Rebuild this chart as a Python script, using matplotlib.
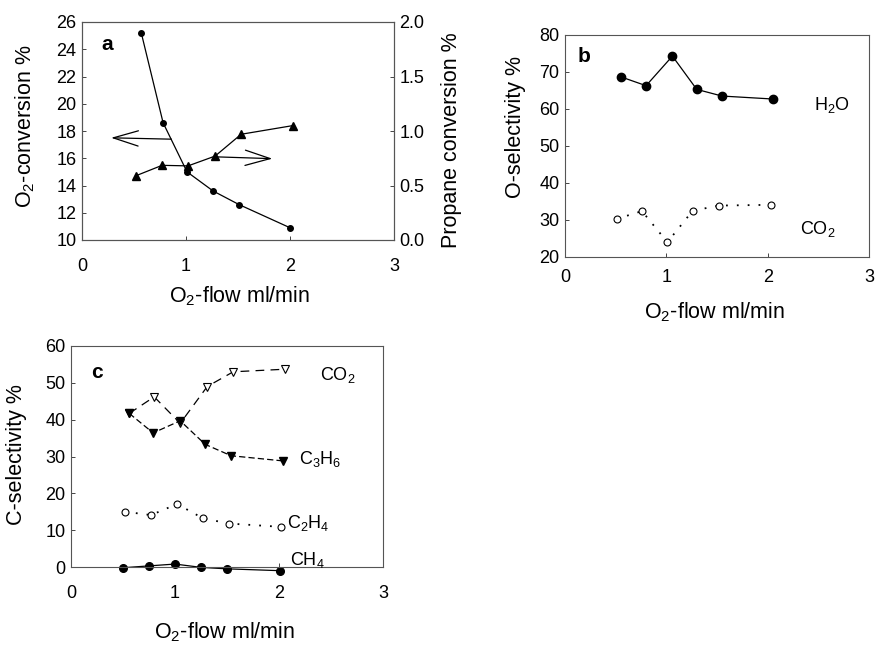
import matplotlib
matplotlib.use("Agg")
import matplotlib.pyplot as plt

plt.rcParams["font.family"] = ["Liberation Sans", "DejaVu Sans"]
plt.rcParams["mathtext.fontset"] = "custom"
plt.rcParams["mathtext.rm"] = "Liberation Sans"
plt.rcParams["mathtext.it"] = "Liberation Sans:italic"
plt.rcParams["mathtext.bf"] = "Liberation Sans:bold"

# ---- panel a: conversion vs O2 flow ----
flow_a_o2 = [0.57, 0.78, 1.01, 1.26, 1.51, 2.00]
o2_conversion = [25.2, 18.6, 15.0, 13.6, 12.6, 10.9]
flow_a_prop = [0.52, 0.77, 1.02, 1.28, 1.53, 2.03]
propane_conversion = [0.59, 0.685, 0.68, 0.77, 0.97, 1.05]

# ---- panel b: O-selectivity ----
flow_b_h2o = [0.55, 0.80, 1.06, 1.30, 1.55, 2.05]
o_sel_h2o = [68.7, 66.3, 74.3, 65.3, 63.5, 62.7]
flow_b_co2 = [0.51, 0.76, 1.01, 1.26, 1.52, 2.03]
o_sel_co2 = [30.3, 32.4, 24.0, 32.5, 33.9, 34.1]

# ---- panel c: C-selectivity ----
flow_c_co2 = [0.56, 0.80, 1.05, 1.31, 1.56, 2.06]
c_sel_co2 = [41.7, 46.2, 39.0, 49.0, 53.0, 53.7]
flow_c_c3h6 = [0.56, 0.79, 1.05, 1.29, 1.54, 2.04]
c_sel_c3h6 = [41.7, 36.4, 39.7, 33.3, 30.2, 28.8]
flow_c_c2h4 = [0.52, 0.77, 1.02, 1.27, 1.52, 2.02]
c_sel_c2h4 = [15.0, 14.1, 17.1, 13.2, 11.8, 10.9]
flow_c_ch4 = [0.50, 0.75, 1.00, 1.25, 1.50, 2.01]
c_sel_ch4 = [-0.2, 0.3, 0.8, -0.1, -0.5, -1.0]

x_ticks = [0, 1, 2, 3]
W, H = 877, 645
fig = plt.figure(figsize=(W / 100, H / 100), dpi=100)

TICK = 13
LAB = 15.5
SPEC = 13


def add_axes_px(left, top, right, bottom):
    return fig.add_axes([left / W, 1 - bottom / H, (right - left) / W, (bottom - top) / H])


def fig_text(x, y, s, **kw):
    fig.text(x / W, 1 - y / H, s, ha="center", va="center", **kw)


def style_axes(ax, xpad=12):
    for sp in ax.spines.values():
        sp.set_color("#555555")
        sp.set_linewidth(0.8)
    ax.tick_params(direction="in", length=3, width=0.7, color="#444444",
                   labelsize=TICK, pad=4)
    ax.tick_params(axis="x", pad=xpad)
    ax.set_xlim(0, 3)
    ax.set_xticks(x_ticks)


# Panel a
axA = add_axes_px(82, 22, 394, 240)
style_axes(axA, xpad=13)
axA.set_ylim(10, 26)
axA.set_yticks(range(10, 27, 2))
axA.plot(flow_a_o2, o2_conversion, "-", color="black", lw=0.9,
         marker="o", ms=4, mfc="black", mec="black")
axA.annotate("", xy=(0.28, 17.5), xytext=(0.86, 17.4),
             arrowprops=dict(arrowstyle="->,head_length=1.8,head_width=0.55",
                             lw=0.9, color="black", shrinkA=0, shrinkB=0))
axA.annotate("", xy=(1.83, 15.97), xytext=(1.30, 16.1),
             arrowprops=dict(arrowstyle="->,head_length=1.8,head_width=0.55",
                             lw=0.9, color="black", shrinkA=0, shrinkB=0))
axA2 = axA.twinx()
for sp in axA2.spines.values():
    sp.set_color("#555555")
    sp.set_linewidth(0.8)
axA2.set_ylim(0, 2.0)
axA2.set_yticks([0.0, 0.5, 1.0, 1.5, 2.0])
axA2.set_yticklabels(["0.0", "0.5", "1.0", "1.5", "2.0"])
axA2.tick_params(direction="in", length=3, width=0.7, color="#444444",
                 labelsize=TICK, pad=4)
axA2.plot(flow_a_prop, propane_conversion, "-", color="black", lw=0.9,
          marker="^", ms=6, mfc="black", mec="black")
fig_text(107, 45, "a", fontsize=15, fontweight="bold")
fig_text(25, 126, "O$_2$-conversion %", fontsize=LAB, rotation=90)
fig_text(451, 140, "Propane conversion %", fontsize=LAB, rotation=90)
fig_text(240, 296, "O$_2$-flow ml/min", fontsize=LAB)

# Panel b
axB = add_axes_px(565, 35, 869, 257)
style_axes(axB, xpad=9)
axB.set_ylim(20, 80)
axB.set_yticks(range(20, 81, 10))
axB.plot(flow_b_h2o, o_sel_h2o, "-", color="black", lw=0.9,
         marker="o", ms=6, mfc="black", mec="black")
axB.plot(flow_b_co2, o_sel_co2, linestyle=(0, (1, 5)), color="black", lw=1.3,
         marker="o", ms=5, mfc="white", mec="black", mew=0.8)
fig_text(584, 57, "b", fontsize=15, fontweight="bold")
fig_text(516, 127, "O-selectivity %", fontsize=LAB, rotation=90)
fig_text(715, 312, "O$_2$-flow ml/min", fontsize=LAB)
fig_text(832, 105, "H$_2$O", fontsize=SPEC)
fig_text(818, 229, "CO$_2$", fontsize=SPEC)

# Panel c
axC = add_axes_px(71, 346, 383, 567)
style_axes(axC, xpad=13)
axC.set_ylim(0, 60)
axC.set_yticks(range(0, 61, 10))
axC.plot(flow_c_co2, c_sel_co2, linestyle=(0, (7, 5)), color="black", lw=0.9,
         marker="v", ms=6, mfc="white", mec="black", mew=0.8)
axC.plot(flow_c_c3h6, c_sel_c3h6, linestyle=(0, (5, 2.5)), color="black", lw=0.9,
         marker="v", ms=5.5, mfc="black", mec="black")
axC.plot(flow_c_c2h4, c_sel_c2h4, linestyle=(0, (1, 5)), color="black", lw=1.3,
         marker="o", ms=5, mfc="white", mec="black", mew=0.8)
axC.plot(flow_c_ch4, c_sel_ch4, "-", color="black", lw=0.9, clip_on=False,
         marker="o", ms=5.5, mfc="black", mec="black")
fig_text(97, 372, "c", fontsize=15, fontweight="bold")
fig_text(17, 455, "C-selectivity %", fontsize=LAB, rotation=90)
fig_text(225, 632, "O$_2$-flow ml/min", fontsize=LAB)
fig_text(338, 375, "CO$_2$", fontsize=SPEC)
fig_text(320, 459, "C$_3$H$_6$", fontsize=SPEC)
fig_text(308, 523, "C$_2$H$_4$", fontsize=SPEC)
fig_text(307, 560, "CH$_4$", fontsize=SPEC)

fig.savefig("out.png", dpi=100)
